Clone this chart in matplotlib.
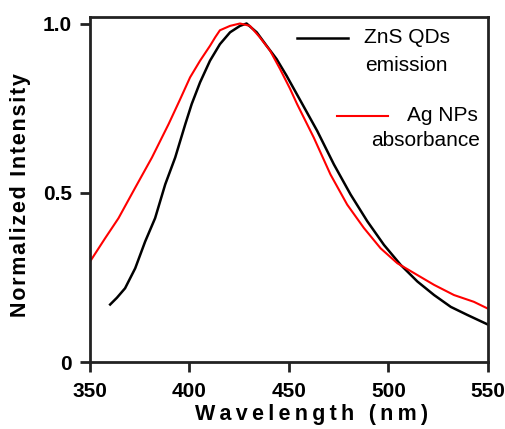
import matplotlib
matplotlib.use("Agg")
import matplotlib.pyplot as plt

plt.rcParams['font.family'] = ['Liberation Sans', 'DejaVu Sans']

# ZnS QDs emission (black)
zns_wl = [360.1, 363.5, 367.6, 372.7, 377.7, 382.7, 387.8, 392.8, 397.9, 401.1,
          405.3, 410.3, 415.3, 420.4, 425.4, 428.7, 433.8, 438.8, 443.8, 448.8,
          455.8, 464.2, 472.6, 481.0, 489.4, 497.8, 506.2, 514.6, 523.0, 531.4,
          539.8, 550.0]
zns_int = [0.170, 0.190, 0.218, 0.277, 0.356, 0.425, 0.525, 0.604, 0.703, 0.762,
           0.826, 0.890, 0.939, 0.974, 0.993, 1.000, 0.974, 0.934, 0.895, 0.846,
           0.772, 0.683, 0.584, 0.495, 0.416, 0.346, 0.287, 0.238, 0.198, 0.163,
           0.139, 0.111]

# Ag NPs absorbance (red)
ag_wl = [350.0, 357.6, 364.3, 372.7, 381.1, 389.5, 395.2, 400.3, 405.3, 410.3,
         413.0, 415.3, 420.4, 425.4, 430.4, 435.4, 440.5, 445.5, 450.5, 454.1,
         462.5, 470.9, 479.3, 487.7, 496.1, 504.5, 514.6, 523.0, 533.0, 543.0,
         550.0]
ag_abs = [0.297, 0.366, 0.425, 0.515, 0.604, 0.703, 0.775, 0.841, 0.890, 0.934,
          0.960, 0.980, 0.993, 1.000, 0.993, 0.959, 0.920, 0.866, 0.808, 0.762,
          0.663, 0.554, 0.465, 0.396, 0.336, 0.292, 0.257, 0.228, 0.198, 0.178,
          0.158]

x_ticks = [350, 400, 450, 500, 550]
y_ticks = [0, 0.5, 1.0]
y_tick_labels = ['0', '0.5', '1.0']

TS = '\u2009'  # thin space (letter spacing, x label)
HS = '\u200a'  # hair space (letter spacing, y label)

fig = plt.figure(figsize=(5.06, 4.29), dpi=100)
ax = fig.add_axes([0.178, 0.156, 0.786, 0.805])

ax.plot(zns_wl, zns_int, color='black', lw=1.8)
ax.plot(ag_wl, ag_abs, color='#ff0000', lw=1.5)

ax.set_xlim(350, 550)
ax.set_ylim(0, 1.02)
ax.set_xticks(x_ticks)
ax.set_xticklabels([str(t) for t in x_ticks])
ax.set_yticks(y_ticks)
ax.set_yticklabels(y_tick_labels)

for s in ax.spines.values():
    s.set_linewidth(2.0)
    s.set_color('#222222')
ax.tick_params(axis='both', direction='out', length=7, width=2.0,
               labelsize=15, color='#222222')
ax.tick_params(axis='x', pad=7.5)
ax.tick_params(axis='y', pad=6)
for lab in ax.get_xticklabels() + ax.get_yticklabels():
    lab.set_fontweight('bold')

ax.set_xlabel(TS.join('Wavelength (nm)'), fontsize=15.5, fontweight='bold')
ax.set_ylabel(HS.join('Normalized Intensity'), fontsize=15.5, fontweight='bold')
ax.xaxis.set_label_coords(0.558, -0.1225)
ax.yaxis.set_label_coords(-0.1475, 0.484)

# legend-like annotations
ax.plot([0.52, 0.648], [0.939, 0.939], transform=ax.transAxes, color='black', lw=1.8)
ax.text(0.905, 0.939, 'ZnS QDs', transform=ax.transAxes, ha='right', va='center', fontsize=15)
ax.text(0.90, 0.858, 'emission', transform=ax.transAxes, ha='right', va='center', fontsize=15)
ax.plot([0.62, 0.75], [0.713, 0.713], transform=ax.transAxes, color='#ff0000', lw=1.5)
ax.text(0.975, 0.713, 'Ag NPs', transform=ax.transAxes, ha='right', va='center', fontsize=15)
ax.text(0.98, 0.642, 'absorbance', transform=ax.transAxes, ha='right', va='center', fontsize=15)

fig.savefig('out.png', dpi=100)
